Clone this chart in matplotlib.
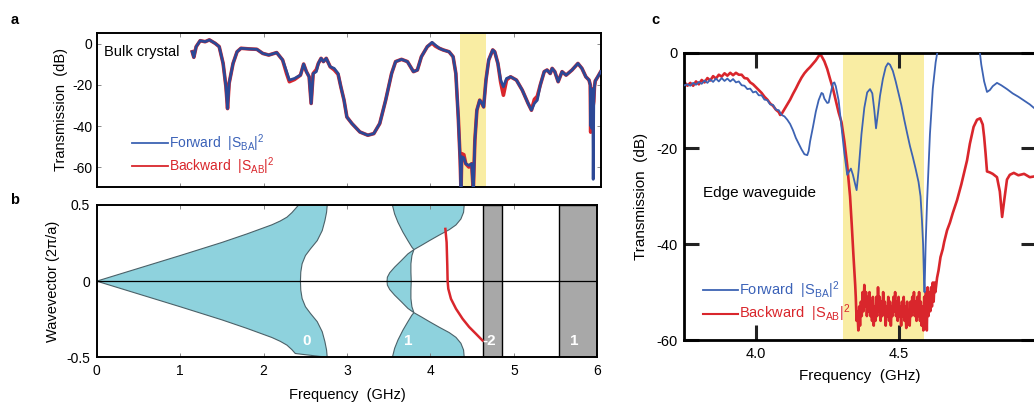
import matplotlib
matplotlib.use("Agg")
import matplotlib.pyplot as plt
import numpy as np

plt.rcParams['font.family'] = ['Liberation Sans', 'DejaVu Sans']
plt.rcParams['mathtext.fontset'] = 'custom'
plt.rcParams['mathtext.rm'] = 'Liberation Sans'
plt.rcParams['mathtext.it'] = 'Liberation Sans:italic'
plt.rcParams['mathtext.bf'] = 'Liberation Sans:bold'
plt.rcParams['axes.unicode_minus'] = False

# ---------------- Panel a data (bulk crystal) ----------------
fa = [1.145, 1.164, 1.192, 1.24, 1.30, 1.35, 1.42, 1.468, 1.515, 1.549, 1.568, 1.587,
      1.634, 1.682, 1.729, 1.824, 1.919, 1.99, 2.062, 2.157, 2.228, 2.276, 2.309, 2.371,
      2.442, 2.48, 2.513, 2.546, 2.57, 2.594, 2.632, 2.656, 2.689, 2.717, 2.751, 2.798,
      2.846, 2.893, 2.926, 2.964, 2.998, 3.059, 3.154, 3.249, 3.321, 3.392, 3.463, 3.534,
      3.582, 3.653, 3.724, 3.796, 3.843, 3.891, 3.962, 4.019, 4.057, 4.105, 4.152, 4.223,
      4.271, 4.304, 4.333, 4.356, 4.366, 4.375, 4.40, 4.423, 4.46, 4.494, 4.513, 4.532,
      4.556, 4.59, 4.618, 4.637, 4.665, 4.698, 4.746, 4.77, 4.808, 4.841, 4.874, 4.912,
      4.96, 5.03, 5.10, 5.17, 5.21, 5.245, 5.28, 5.316, 5.363, 5.397, 5.435, 5.458,
      5.49, 5.53, 5.577, 5.625, 5.696, 5.767, 5.815, 5.862, 5.90, 5.915, 5.92, 5.925,
      5.93, 5.935, 5.94, 5.945, 5.95, 5.957, 5.965, 5.975, 6.005, 6.04]
a_fwd = [-3.8, -6.5, -1.3, 1.6, 1.1, 2.0, 0.3, -1.3, -9.5, -20.9, -31.5, -19.2,
         -9.5, -3.8, -2.1, -2.4, -2.6, -4.6, -5.4, -4.2, -7.8, -13.5, -17.6, -16.8,
         -15.2, -9.8, -13.5, -16.0, -29.0, -14.4, -13.5, -9.5, -7.0, -8.6, -7.0, -11.1,
         -11.9, -14.4, -20.9, -27.4, -35.6, -38.8, -42.9, -44.5, -43.7, -38.8, -27.4, -14.4,
         -8.6, -7.5, -8.6, -13.5, -12.7, -6.2, -1.3, 0.8, -0.5, -2.1, -2.9, -3.8,
         -6.2, -14.4, -35.6, -56.8, -72.0, -55.0, -55.5, -58.4, -59.2, -58.4, -72.0, -47.0,
         -32.3, -27.4, -29.0, -30.7, -17.6, -7.8, -2.9, -3.8, -9.5, -17.6, -20.9, -16.8,
         -16.0, -17.6, -22.5, -29.0, -32.3, -29.0, -27.4, -20.0, -13.5, -12.7, -14.4, -11.9,
         -13.5, -18.4, -13.5, -15.2, -12.7, -9.5, -11.9, -16.0, -17.6, -20.0, -40.0, -22.0,
         -41.0, -24.0, -38.0, -22.0, -66.0, -28.0, -20.9, -18.0, -16.0, -13.5]
a_bwd = [-3.8, -6.5, -1.3, 1.6, 1.1, 2.0, 0.3, -1.3, -9.5, -20.9, -31.5, -19.2,
         -9.5, -3.8, -2.1, -2.4, -2.6, -4.6, -5.4, -4.2, -7.8, -14.5, -18.4, -17.3,
         -15.2, -9.8, -13.5, -16.0, -29.0, -14.4, -12.5, -9.5, -7.0, -8.6, -7.0, -11.1,
         -12.6, -14.8, -20.9, -27.4, -35.6, -38.8, -42.9, -44.5, -43.7, -38.8, -27.4, -14.4,
         -8.6, -7.5, -8.6, -13.5, -12.7, -6.2, -1.3, 0.5, -1.0, -2.1, -2.9, -3.8,
         -6.2, -14.4, -35.6, -56.8, -72.0, -53.5, -54.0, -58.4, -60.0, -58.4, -72.0, -47.0,
         -32.3, -27.4, -29.0, -30.7, -17.6, -7.8, -2.9, -3.8, -9.5, -18.6, -25.0, -17.5,
         -16.0, -17.6, -22.5, -29.0, -32.3, -27.0, -25.5, -20.0, -13.5, -12.7, -14.4, -11.9,
         -13.5, -18.4, -13.5, -15.2, -12.7, -9.5, -11.9, -16.0, -17.6, -20.0, -43.0, -22.0,
         -30.0, -24.0, -28.0, -22.0, -30.0, -28.0, -20.9, -18.0, -16.0, -13.5]
band_a = [4.35, 4.66]

# ---------------- Panel b data (band structure) ----------------
b0_left_f = [0.0, 0.5, 1.0, 1.5, 1.8, 2.0, 2.1, 2.2, 2.28, 2.34, 2.38, 2.42]
b0_left_k = [0.0, 0.084, 0.168, 0.254, 0.31, 0.35, 0.37, 0.395, 0.42, 0.45, 0.475, 0.5]
b0_right_f = [2.763, 2.755, 2.735, 2.703, 2.643, 2.562, 2.502, 2.462, 2.446, 2.442]
b0_right_k = [0.5, 0.452, 0.397, 0.332, 0.266, 0.212, 0.168, 0.114, 0.059, 0.0]

b1_upL_f = [3.544, 3.571, 3.611, 3.671, 3.730, 3.778, 3.802]
b1_upL_k = [0.5, 0.441, 0.386, 0.321, 0.266, 0.223, 0.207]
b1_upR_f = [4.405, 4.397, 4.365, 4.306, 4.226, 4.107, 3.988, 3.889, 3.802]
b1_upR_k = [0.5, 0.452, 0.408, 0.369, 0.338, 0.303, 0.266, 0.234, 0.207]
b1_midL_f = [3.802, 3.730, 3.651, 3.571, 3.512, 3.484, 3.48]
b1_midL_k = [0.207, 0.179, 0.135, 0.092, 0.055, 0.026, 0.0]
b1_midR_f = [3.802, 3.778, 3.766, 3.766, 3.77]
b1_midR_k = [0.207, 0.168, 0.114, 0.059, 0.0]

edge_f = [4.179, 4.194, 4.202, 4.206, 4.214, 4.246, 4.306, 4.385, 4.464, 4.544, 4.603, 4.625]
edge_k = [0.343, 0.255, 0.103, 0.0, -0.05, -0.116, -0.181, -0.247, -0.301, -0.345, -0.378, -0.39]

gaps = [(4.627, 4.861), (5.545, 6.0)]
band_labels = ['0', '1', '-2', '1']
band_label_f = [2.52, 3.73, 4.71, 5.72]

# ---------------- Panel c data (edge waveguide) ----------------
fc_fwd = [3.75, 3.76, 3.77, 3.78, 3.79, 3.80, 3.81, 3.82, 3.83, 3.84, 3.85, 3.86, 3.87, 3.88,
          3.89, 3.90, 3.91, 3.92, 3.93, 3.94, 3.95, 3.96, 3.97, 3.98, 3.99, 4.00, 4.01, 4.02,
          4.03, 4.04, 4.05, 4.06, 4.07, 4.08, 4.09, 4.10, 4.11, 4.12, 4.13, 4.14, 4.15, 4.16,
          4.17, 4.18, 4.185, 4.19, 4.20, 4.21, 4.22, 4.23, 4.235, 4.24, 4.25, 4.255, 4.26, 4.27,
          4.275, 4.28, 4.29, 4.30, 4.31, 4.32, 4.327, 4.333, 4.34, 4.348, 4.353, 4.36, 4.37,
          4.38, 4.39, 4.40, 4.408, 4.415, 4.421, 4.428, 4.435, 4.445, 4.455, 4.463, 4.47, 4.48,
          4.49, 4.50, 4.51, 4.52, 4.53, 4.54, 4.55, 4.56, 4.57, 4.577, 4.582, 4.586, 4.589,
          4.591, 4.595, 4.60, 4.61, 4.62, 4.63, 4.64, 4.70, 4.78, 4.785, 4.79, 4.80, 4.81,
          4.82, 4.83, 4.845, 4.86, 4.88, 4.90, 4.92, 4.94, 4.96, 4.98]
c_fwd = [-6.8, -6.6, -6.9, -6.3, -6.7, -6.1, -6.5, -5.8, -6.3, -5.6, -6.1, -5.4, -6.0, -5.3,
         -5.9, -5.4, -6.0, -5.5, -6.2, -6.0, -6.8, -6.9, -7.6, -7.5, -8.3, -8.1, -8.9, -8.9,
         -9.8, -9.9, -10.8, -10.9, -11.9, -12.0, -13.0, -13.3, -14.0, -14.9, -16.2, -17.8, -19.0, -20.2,
         -21.2, -21.4, -20.5, -18.5, -15.5, -12.3, -9.9, -8.4, -8.6, -9.6, -10.5, -10.4, -9.0, -6.4,
         -6.2, -7.0, -10.0, -15.5, -21.0, -25.5, -24.8, -24.2, -25.5, -27.5, -28.7, -24.5, -17.0,
         -11.5, -8.3, -7.6, -8.5, -12.0, -15.8, -12.5, -9.0, -5.5, -3.0, -2.2, -2.5, -3.8,
         -6.0, -8.5, -11.0, -14.0, -16.8, -19.5, -21.8, -24.3, -27.0, -30.0, -35.0, -40.0, -47.0,
         -50.0, -40.0, -31.0, -17.0, -7.5, -2.0, 1.5, 5.0, 2.0, 0.0, -2.5, -6.0, -8.2,
         -7.8, -7.0, -6.3, -6.8, -7.6, -8.5, -9.2, -10.0, -10.8, -11.8]

fc_bwd = [3.75, 3.76, 3.77, 3.78, 3.79, 3.80, 3.81, 3.82, 3.83, 3.84, 3.85, 3.86, 3.87, 3.88,
          3.89, 3.90, 3.91, 3.92, 3.93, 3.94, 3.95, 3.96, 3.97, 3.98, 3.99, 4.00, 4.01, 4.02,
          4.03, 4.04, 4.05, 4.06, 4.07, 4.08, 4.085, 4.09, 4.10, 4.11, 4.12, 4.13, 4.14, 4.15,
          4.16, 4.17, 4.18, 4.19, 4.20, 4.21, 4.22, 4.225, 4.23, 4.24, 4.25, 4.26, 4.27, 4.28,
          4.29, 4.30, 4.31, 4.32, 4.33, 4.336, 4.342, 4.348,
          4.350, 4.353, 4.356, 4.359, 4.362, 4.365, 4.368, 4.371, 4.374, 4.377, 4.380, 4.383,
          4.386, 4.389, 4.392, 4.395, 4.398, 4.401, 4.404, 4.407, 4.410, 4.413, 4.416, 4.419,
          4.422, 4.425, 4.428, 4.431, 4.434, 4.437, 4.440, 4.443, 4.446, 4.449, 4.452, 4.455,
          4.458, 4.461, 4.464, 4.467, 4.470, 4.473, 4.476, 4.479, 4.482, 4.485, 4.488, 4.491,
          4.494, 4.497, 4.500, 4.503, 4.506, 4.509, 4.512, 4.515, 4.518, 4.521, 4.524, 4.527,
          4.530, 4.533, 4.536, 4.539, 4.542, 4.545, 4.548, 4.551, 4.554, 4.557, 4.560, 4.563,
          4.566, 4.569, 4.572, 4.575, 4.578, 4.581, 4.584, 4.587, 4.590, 4.593, 4.596, 4.599,
          4.602, 4.605, 4.608, 4.611, 4.614, 4.617, 4.620, 4.623, 4.626, 4.629,
          4.635, 4.64, 4.647, 4.655, 4.66, 4.67, 4.68, 4.69, 4.705, 4.72, 4.73, 4.74, 4.75,
          4.763, 4.775, 4.786, 4.795, 4.80, 4.805, 4.81, 4.82, 4.83, 4.845, 4.855, 4.863, 4.87,
          4.88, 4.89, 4.904, 4.92, 4.94, 4.96, 4.98]
c_bwd = [-6.2, -6.9, -6.3, -6.9, -6.0, -6.6, -5.7, -6.2, -5.3, -5.8, -4.9, -5.4, -4.6, -5.0,
         -4.3, -4.8, -4.2, -4.7, -4.2, -4.6, -4.6, -5.3, -5.4, -6.2, -6.6, -7.2, -7.8, -8.4,
         -9.2, -9.8, -10.6, -11.1, -11.9, -12.4, -13.0, -12.8, -11.8, -10.8, -9.8, -8.6, -7.5, -6.3,
         -5.2, -4.3, -3.6, -3.0, -2.3, -1.6, -0.7, -0.4, -0.7, -1.8, -3.4, -5.5, -7.5, -10.0,
         -12.5, -14.5, -18.5, -23.5, -30.0, -36.0, -42.5, -48.5,
         -51, -56, -54, -58, -53, -57, -52, -55, -50, -54, -48.5, -53,
         -50, -55, -51, -54, -50, -55, -52, -56, -51, -57, -53, -56,
         -51, -55, -49, -54, -51, -56, -52, -55, -50, -54, -52, -57,
         -53, -55, -51, -56, -52, -57, -53, -55, -51, -54, -50, -55,
         -52, -56, -51, -55, -53, -57, -52, -55, -51, -56, -53, -57.5,
         -52, -56, -54, -57, -52, -55, -51, -54, -50, -55, -52, -56,
         -51, -55, -50, -56, -52, -57, -53, -58, -51, -57, -50, -58,
         -49, -55, -50, -54, -49, -53, -48, -52, -48, -50,
         -47, -45.5, -42.7, -41, -39.5, -37.1, -35.5, -33.5, -30.8, -27.5, -25, -22.5, -19,
         -15.5, -14, -13.7, -15, -17.6, -21, -24.8, -25.0, -25.3, -26.0, -29, -34.3, -31,
         -26.5, -25.5, -25.1, -25.6, -25.3, -26.0, -25.8]
band_c = [4.306, 4.59]

# ---------------- colours ----------------
BLUE_A = '#2c4896'
BLUE_C = '#3d63b3'
RED = '#d9262c'
BLUE_TXT = '#3b62b8'
CYAN = '#8ed2dd'
EDGE = '#4b6168'
YELLOW = '#f9eda3'
GRAY = '#a8a8a8'

W, H = 1034, 409
fig = plt.figure(figsize=(W / 100, H / 100), dpi=100)

def rect(l, t, r, b):
    return [l / W, 1 - b / H, (r - l) / W, (b - t) / H]

# ================= Panel a =================
axa = fig.add_axes(rect(96.7, 32.7, 600.7, 186.7))
axa.axvspan(band_a[0], band_a[1], color=YELLOW, lw=0, zorder=0)
axa.plot(fa, a_bwd, color=RED, lw=2.6, zorder=2, solid_joinstyle='round')
axa.plot(fa, a_fwd, color=BLUE_A, lw=2.0, zorder=3, solid_joinstyle='round')
axa.set_xlim(0, 6.04)
axa.set_ylim(-69.6, 5.5)
axa.set_yticks([0, -20, -40, -60])
axa.set_xticks([1, 2, 3, 4, 5])
axa.set_xticklabels([])
axa.tick_params(direction='in', top=True, right=True, length=3, width=0.6,
                color='#777777', labelsize=10, pad=3)
for s in axa.spines.values():
    s.set_linewidth(1.4)
axa.set_ylabel('Transmission  (dB)', fontsize=10.5, labelpad=3)
axa.text(0.09, -4.1, 'Bulk crystal', fontsize=10.5, va='center', ha='left')
axa.plot([0.070, 0.1407], [0.2855, 0.2855], transform=axa.transAxes, color=BLUE_C, lw=1.3)
axa.plot([0.070, 0.1407], [0.1316, 0.1316], transform=axa.transAxes, color=RED, lw=1.3)
axa.text(0.1425, 0.2855, r'Forward  $|\mathrm{S}_{\mathrm{BA}}|^2$', transform=axa.transAxes,
         color=BLUE_TXT, fontsize=10, va='center', ha='left')
axa.text(0.1425, 0.1316, r'Backward  $|\mathrm{S}_{\mathrm{AB}}|^2$', transform=axa.transAxes,
         color=RED, fontsize=10, va='center', ha='left')
fig.text(15 / W, 1 - 20 / H, 'a', fontsize=10.5, fontweight='bold', ha='center', va='center')

# ================= Panel b =================
axb = fig.add_axes(rect(96.7, 205, 597.3, 357.3))

# band 0
xs = b0_left_f + b0_right_f + [f for f in b0_right_f[::-1]][1:] + b0_left_f[::-1][1:]
ys = b0_left_k + b0_right_k + [-k for k in b0_right_k[::-1]][1:] + [-k for k in b0_left_k[::-1]][1:]
axb.fill(xs, ys, facecolor=CYAN, edgecolor=EDGE, lw=0.8, zorder=1)
# band 1: upper lobe, lower lobe, middle lobe
for sgn in (1, -1):
    xs = b1_upL_f + b1_upR_f[::-1]
    ys = [sgn * k for k in b1_upL_k] + [sgn * k for k in b1_upR_k[::-1]]
    axb.fill(xs, ys, facecolor=CYAN, edgecolor=EDGE, lw=0.8, zorder=1)
xs = b1_midL_f + b1_midL_f[::-1][1:] + b1_midR_f + b1_midR_f[::-1][1:]
ys = b1_midL_k + [-k for k in b1_midL_k[::-1]][1:] + [-k for k in b1_midR_k] + b1_midR_k[::-1][1:]
axb.fill(xs, ys, facecolor=CYAN, edgecolor=EDGE, lw=0.8, zorder=1)

for g0, g1 in gaps:
    axb.axvspan(g0, g1, facecolor=GRAY, edgecolor='black', lw=1.0, zorder=2)
axb.axhline(0, color='black', lw=0.9, zorder=3)
axb.plot(edge_f, edge_k, color=RED, lw=1.8, zorder=4)
for lab, f in zip(band_labels, band_label_f):
    axb.text(f, -0.39, lab, color='white', fontsize=11, fontweight='bold',
             ha='center', va='center', zorder=5)
axb.set_xlim(0, 6)
axb.set_ylim(-0.5, 0.5)
axb.set_xticks([0, 1, 2, 3, 4, 5, 6])
axb.set_yticks([0.5, 0, -0.5])
axb.set_yticklabels(['0.5', '0', '-0.5'])
axb.tick_params(direction='in', top=True, right=True, length=3, width=0.6,
                color='#777777', labelsize=10, pad=5)
for s in axb.spines.values():
    s.set_linewidth(1.4)
    s.set_zorder(6)
axb.set_xlabel('Frequency  (GHz)', fontsize=10.5, labelpad=7)
axb.set_ylabel('Wavevector (2π/a)', fontsize=10.5, labelpad=4)
fig.text(15 / W, 1 - 200 / H, 'b', fontsize=10.5, fontweight='bold', ha='center', va='center')

# ================= Panel c =================
axc = fig.add_axes(rect(684.3, 52.7, 1035.5, 340))
axc.axvspan(band_c[0], band_c[1], color=YELLOW, lw=0, zorder=0)
axc.plot(fc_bwd, c_bwd, color=RED, lw=1.9, zorder=2, solid_joinstyle='round')
axc.plot(fc_fwd, c_fwd, color=BLUE_C, lw=1.3, zorder=3, solid_joinstyle='round')
axc.set_xlim(3.749, 4.980)
axc.set_ylim(-60, 0)
axc.set_xticks([4.0, 4.5])
axc.set_xticklabels(['4.0', '4.5'])
axc.set_yticks([0, -20, -40, -60])
axc.tick_params(direction='in', top=True, right=True, length=11, width=2.2,
                color='#222222', labelsize=10.5, pad=5)
for s in axc.spines.values():
    s.set_linewidth(2.0)
axc.set_xlabel('Frequency  (GHz)', fontsize=11, labelpad=6)
axc.set_ylabel('Transmission  (dB)', fontsize=11, labelpad=6)
axc.text(0.052, 0.51, 'Edge waveguide', transform=axc.transAxes, fontsize=11,
         va='center', ha='left')
axc.plot([0.052, 0.153], [0.175, 0.175], transform=axc.transAxes, color=BLUE_C, lw=1.3)
axc.plot([0.052, 0.153], [0.0917, 0.0917], transform=axc.transAxes, color=RED, lw=1.5)
axc.text(0.156, 0.175, r'Forward  $|\mathrm{S}_{\mathrm{BA}}|^2$', transform=axc.transAxes,
         color=BLUE_TXT, fontsize=10.5, va='center', ha='left')
axc.text(0.156, 0.0917, r'Backward  $|\mathrm{S}_{\mathrm{AB}}|^2$', transform=axc.transAxes,
         color=RED, fontsize=10.5, va='center', ha='left')
fig.text(655 / W, 1 - 20 / H, 'c', fontsize=10.5, fontweight='bold', ha='center', va='center')

fig.savefig('out.png', dpi=100)
